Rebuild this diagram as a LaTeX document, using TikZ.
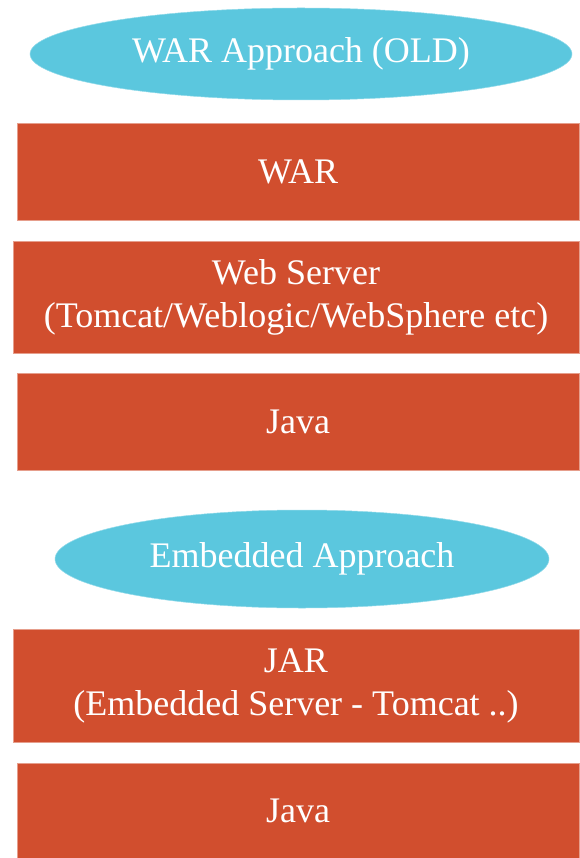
\documentclass[tikz,border=0pt]{standalone}
\usepackage{fontspec}
\setmainfont{Liberation Serif}
\usetikzlibrary{shapes.geometric}
\definecolor{layerred}{RGB}{209, 78, 46}
\definecolor{headcyan}{RGB}{91, 199, 222}

\begin{document}
\begin{tikzpicture}[x=1pt, y=-1pt,
    layer/.style={rectangle, fill=layerred, draw=layerred!55!white, line width=0.5pt,
      text=white, align=center, inner sep=0pt, font=\fontsize{36}{43}\selectfont},
    heading/.style={ellipse, fill=headcyan, draw=headcyan!65!white, line width=0.5pt,
      text=white, inner sep=0pt, font=\fontsize{36}{43}\selectfont}]
  \useasboundingbox (0,0) rectangle (579,858);

  % Old approach
  \node[heading, minimum width=542pt, minimum height=92pt] (oldhead) at (301,54) {WAR Approach (OLD)};
  \node[layer, minimum width=562pt, minimum height=97pt] (war) at (298,171.5) {WAR};
  \node[layer, minimum width=566pt, minimum height=112pt] (webserver) at (296,297)
    {Web Server\\(Tomcat/Weblogic/WebSphere etc)};
  \node[layer, minimum width=562pt, minimum height=97pt] (oldjava) at (298,421.5) {Java};

  % Embedded approach
  \node[heading, minimum width=494pt, minimum height=98pt] (newhead) at (302,559) {Embedded Approach};
  \node[layer, minimum width=566pt, minimum height=113pt] (jar) at (296,685.5) {JAR\\(Embedded Server - Tomcat ..)};
  \node[layer, minimum width=562pt, minimum height=95pt] (newjava) at (298,810.5) {Java};
\end{tikzpicture}
\end{document}
